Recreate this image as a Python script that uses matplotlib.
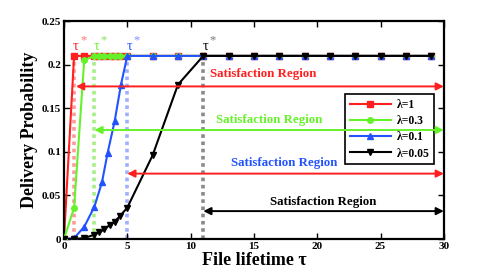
import numpy as np
import matplotlib
matplotlib.use("Agg")
import matplotlib.pyplot as plt

plt.rcParams['font.family'] = ['Liberation Serif', 'DejaVu Serif']
plt.rcParams['font.weight'] = 'bold'
plt.rcParams['mathtext.fontset'] = 'stix'

# ---------------------------------------------------------------
# Data
# ---------------------------------------------------------------
x_red = [0, 0.8, 1.6, 2.4, 2.8, 3.2, 3.6, 4.0, 4.4, 5, 7, 9, 11, 13, 15,
         17, 19, 21, 23, 25, 27, 29]
y_red = [0, 0.21, 0.21, 0.21, 0.21, 0.21, 0.21, 0.21, 0.21, 0.21, 0.21,
         0.21, 0.21, 0.21, 0.21, 0.21, 0.21, 0.21, 0.21, 0.21, 0.21, 0.21]

x_green = [0, 0.8, 1.6, 2.4, 2.8, 3.2, 3.6, 4.0, 4.4, 5, 7, 9, 11, 13, 15,
           17, 19, 21, 23, 25, 27, 29]
y_green = [0, 0.036, 0.205, 0.21, 0.21, 0.21, 0.21, 0.21, 0.21, 0.21, 0.21,
           0.21, 0.21, 0.21, 0.21, 0.21, 0.21, 0.21, 0.21, 0.21, 0.21, 0.21]

x_blue = [0, 0.8, 1.6, 2.4, 3.0, 3.45, 4.0, 4.5, 5, 7, 9, 11, 13, 15,
          17, 19, 21, 23, 25, 27, 29]
y_blue = [0, 0.001, 0.014, 0.037, 0.065, 0.099, 0.135, 0.177, 0.21, 0.21,
          0.21, 0.21, 0.21, 0.21, 0.21, 0.21, 0.21, 0.21, 0.21, 0.21, 0.21]

x_black = [0, 0.8, 1.6, 2.4, 2.8, 3.2, 3.6, 4.0, 4.4, 5, 7, 9, 11, 13, 15,
           17, 19, 21, 23, 25, 27, 29]
y_black = [0, 0.0, 0.001, 0.005, 0.008, 0.011, 0.016, 0.020, 0.026, 0.036,
           0.096, 0.177, 0.21, 0.21, 0.21, 0.21, 0.21, 0.21, 0.21, 0.21,
           0.21, 0.21]

labels = ['λ=1', 'λ=0.3', 'λ=0.1', 'λ=0.05']

# optimal lifetimes tau* for each lambda and the satisfaction arrows
tau_star = [0.8, 2.4, 5.0, 11.0]
plateau = 0.21
arrow_y = [0.175, 0.125, 0.075, 0.032]
arrow_start = [0.95, 2.4, 5.0, 11.0]
region_text_x = [15.7, 16.2, 17.4, 20.5]
region_text_y = [0.189, 0.137, 0.087, 0.042]

RED = '#ff1f1f'
GREEN = '#66f22a'
BLUE = '#2253ff'
BLACK = '#000000'
line_colors = [RED, GREEN, BLUE, BLACK]
dot_colors = ['#ff9a9a', '#a8ee88', '#9fb0ff', '#8a8a8a']
star_colors = ['#ff7070', '#88dd5a', '#7a92ff', '#777777']
arrow_colors = [RED, GREEN, RED, BLACK]
text_colors = [RED, GREEN, BLUE, BLACK]

# ---------------------------------------------------------------
# Figure
# ---------------------------------------------------------------
fig = plt.figure(figsize=(4.91, 2.73), dpi=100)
ax = fig.add_axes([0.1303, 0.1245, 0.7737, 0.7985])

# vertical dotted tau* markers
for t, c in zip(tau_star, dot_colors):
    ax.plot([t, t], [0, plateau], color=c, linestyle=(0, (1, 1)),
            linewidth=2.6, zorder=1)

ax.plot(x_red, y_red, color=RED, marker='s', markersize=4, linewidth=1.5,
        label=labels[0], zorder=2)
ax.plot(x_green, y_green, color=GREEN, marker='o', markersize=4,
        linewidth=1.5, label=labels[1], zorder=3)
ax.plot(x_blue, y_blue, color=BLUE, marker='^', markersize=5, linewidth=1.5,
        label=labels[2], zorder=4)
ax.plot(x_black, y_black, color=BLACK, marker='v', markersize=5,
        linewidth=1.5, label=labels[3], zorder=4.5)

# tau* labels
for t, c, sc in zip(tau_star, line_colors, star_colors):
    ax.text(t + 0.15, plateau + 0.003, 'τ', color=c, fontsize=10.5,
            ha='center', va='bottom', fontweight='normal')
    ax.text(t + 0.75, plateau + 0.011, '*', color=sc, fontsize=9,
            ha='center', va='bottom', fontweight='normal')

# satisfaction regions
for y, x0, ac in zip(arrow_y, arrow_start, arrow_colors):
    ax.annotate('', xy=(x0, y), xytext=(30, y),
                arrowprops=dict(arrowstyle='<|-|>', color=ac, lw=1.4,
                                mutation_scale=11, shrinkA=0, shrinkB=0),
                zorder=6)
for tx, ty, tc in zip(region_text_x, region_text_y, text_colors):
    ax.text(tx, ty, 'Satisfaction Region', color=tc, fontsize=9.3,
            fontweight='bold', ha='center', va='center', zorder=6)

ax.set_xlim(0, 30)
ax.set_ylim(0, 0.25)
ax.set_xticks([0, 5, 10, 15, 20, 25, 30])
ax.set_yticks([0, 0.05, 0.1, 0.15, 0.2, 0.25])
ax.set_yticklabels(['0', '0.05', '0.1', '0.15', '0.2', '0.25'])
ax.tick_params(direction='in', top=True, right=True, length=4, width=1,
               labelsize=8, pad=2)
for lab in ax.get_xticklabels() + ax.get_yticklabels():
    lab.set_fontweight('bold')
for sp in ax.spines.values():
    sp.set_linewidth(1.6)

ax.set_xlabel('File lifetime τ', fontsize=13, fontweight='bold', labelpad=1)
ax.set_ylabel('Delivery Probability', fontsize=13, fontweight='bold',
              labelpad=3)

leg = ax.legend(loc='upper left', bbox_to_anchor=(0.74, 0.664),
                fontsize=8.4, frameon=True, fancybox=False, framealpha=1,
                edgecolor='black', handlelength=3.5, labelspacing=0.36,
                borderpad=0.4, handletextpad=0.5, borderaxespad=0)
leg.get_frame().set_linewidth(1.2)
leg.set_zorder(5)

fig.savefig('out.png', dpi=100)
